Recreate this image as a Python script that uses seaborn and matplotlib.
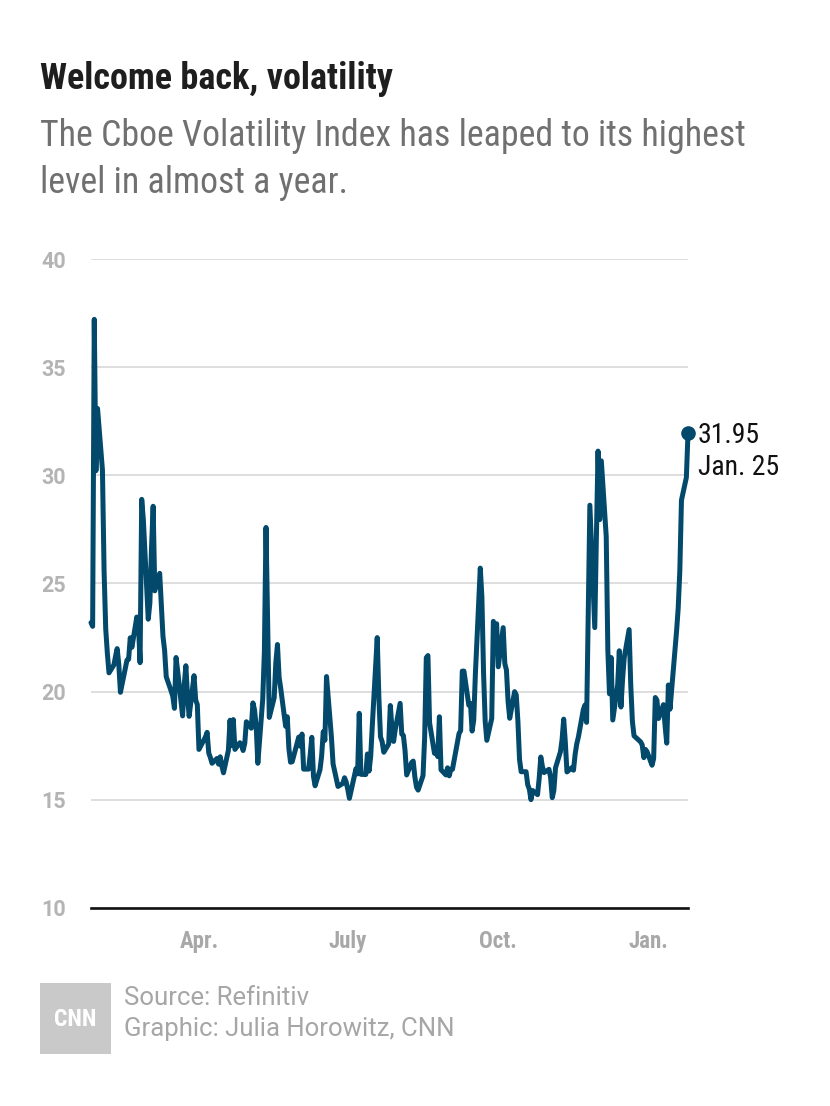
import numpy as np
import pandas as pd
import matplotlib
matplotlib.use("Agg")
import matplotlib.pyplot as plt
from matplotlib import font_manager as fm
from matplotlib.patches import Rectangle
import seaborn as sns

# ---------------- data ----------------
start_date = "2021-01-25"
end_date = "2022-01-25"
market_holidays = ["2021-02-15", "2021-04-02", "2021-05-31", "2021-07-05",
                   "2021-09-06", "2021-11-25", "2021-12-24", "2022-01-17"]

vix_2021_01 = [23.19, 23.02, 37.21, 30.21, 33.09]
vix_2021_02 = [30.24, 25.56, 22.91, 21.77, 20.87, 21.24, 21.63, 21.99, 21.25, 19.97,
               21.46, 21.50, 22.49, 22.05, 23.45, 23.11, 21.34, 28.89, 27.95]
vix_2021_03 = [23.35, 24.10, 26.67, 28.57, 24.66, 25.47, 24.03, 22.56, 21.91, 20.69,
               20.03, 19.79, 19.23, 21.58, 20.95, 18.88, 20.30, 21.20, 19.81, 18.86,
               20.74, 19.61, 19.40]
vix_2021_04 = [17.33, 17.91, 18.12, 17.16, 16.95, 16.69, 16.91, 16.65, 16.99, 16.57,
               16.25, 17.29, 18.68, 17.50, 18.71, 17.33, 17.64, 17.56, 17.28, 17.61,
               18.61]
vix_2021_05 = [18.31, 19.48, 19.15, 18.39, 16.69, 19.66, 21.84, 27.59, 23.13, 18.81,
               19.72, 21.34, 22.18, 20.67, 20.15, 18.40, 18.84, 17.36, 16.74, 16.76]
vix_2021_06 = [17.90, 17.48, 18.04, 16.42, 16.42, 17.07, 17.89, 16.10, 15.65, 16.39,
               17.02, 18.15, 17.75, 20.70, 17.89, 16.66, 16.32, 15.97, 15.62, 15.76,
               16.02, 15.83]
vix_2021_07 = [15.48, 15.07, 16.44, 16.20, 19.00, 16.18, 16.17, 17.12, 16.33, 17.01,
               18.45, 22.50, 19.73, 17.91, 17.69, 17.20, 17.58, 19.36, 18.31, 17.70,
               18.24]
vix_2021_08 = [19.46, 18.04, 17.97, 17.28, 16.15, 16.72, 16.79, 16.06, 15.59, 15.45,
               16.12, 17.91, 21.57, 21.67, 18.56, 17.15, 17.22, 17.00, 18.84, 16.39,
               16.15, 16.48]
vix_2021_09 = [16.11, 16.41, 16.41, 18.06, 18.20, 20.95, 20.95, 19.37, 19.46, 18.18,
               18.69, 20.81, 25.71, 24.36, 20.87, 18.63, 17.75, 18.76, 23.25, 22.56,
               23.14]
vix_2021_10 = [21.15, 22.96, 21.30, 21.00, 19.54, 18.77, 20.00, 19.85, 18.64, 16.86,
               16.30, 16.30, 15.70, 15.49, 15.01, 15.43, 15.24, 15.98, 16.98, 16.53,
               16.26]
vix_2021_11 = [16.41, 16.03, 15.10, 15.44, 16.48, 17.22, 17.78, 18.73, 17.66, 16.29,
               16.49, 16.37, 17.11, 17.59, 17.91, 19.17, 19.38, 18.58, 28.62, 22.96,
               27.19]
vix_2021_12 = [31.12, 27.95, 30.67, 27.18, 21.89, 19.90, 21.58, 18.69, 20.31, 21.89,
               19.29, 20.57, 21.57, 22.87, 20.31, 18.63, 17.96, 17.68, 17.54, 16.95,
               17.33, 17.22]
vix_2022_01 = [16.60, 16.91, 19.73, 19.61, 18.76, 19.40, 18.41, 17.62, 20.31, 19.19,
               22.79, 23.85, 25.59, 28.85, 29.90, 31.95]

month_ticks = ["2021-04-01", "2021-07-01", "2021-10-01", "2022-01-01"]
month_labels = ["Apr.", "July", "Oct.", "Jan."]
y_ticks = [10, 15, 20, 25, 30, 35, 40]
y_tick_labels = ["10", "15", "20", "25", "30", "35", "40"]

title = "Welcome back, volatility"
subtitle_lines = ["The Cboe Volatility Index has leaped to its highest",
                  "level in almost a year."]
end_value_label = "31.95"
end_date_label = "Jan. 25"
source_lines = ["Source: Refinitiv", "Graphic: Julia Horowitz, CNN"]

values = (vix_2021_01 + vix_2021_02 + vix_2021_03 + vix_2021_04 + vix_2021_05 +
          vix_2021_06 + vix_2021_07 + vix_2021_08 + vix_2021_09 + vix_2021_10 +
          vix_2021_11 + vix_2021_12 + vix_2022_01)
dates = pd.bdate_range(start_date, end_date, freq="C", holidays=market_holidays)
df = pd.DataFrame({"date": dates, "vix": values})

# ---------------- style ----------------
sns.set_theme(style="white")
names = {f.name for f in fm.fontManager.ttflist}


def pick(cands, default="DejaVu Sans"):
    for c in cands:
        if c in names:
            return c
    return default


narrow = pick(["Roboto Condensed", "Liberation Sans Narrow", "DejaVu Sans"])
stretch = "condensed"
tickfont = pick(["Roboto", "Lato", "DejaVu Sans"])
regular = pick(["Roboto", "Liberation Sans", "DejaVu Sans"])
plt.rcParams["font.family"] = [narrow, "DejaVu Sans"]

LINE = "#03496b"
W, H = 830, 1106
fig = plt.figure(figsize=(W / 100, H / 100), dpi=100)
fig.patch.set_facecolor("white")


def fx(px):
    return px / W


def fy(py):
    return 1 - py / H


ax = fig.add_axes([fx(91), fy(908), fx(688) - fx(91), fy(259) - fy(908)])
ax.set_facecolor("white")

sns.lineplot(data=df, x="date", y="vix", ax=ax, color=LINE, linewidth=3.6,
             solid_capstyle="round", solid_joinstyle="round", clip_on=False,
             legend=False, zorder=3)

ax.set_xlim(df["date"].iloc[0], df["date"].iloc[-1])
ax.set_ylim(10, 40)
ax.set_xlabel("")
ax.set_ylabel("")

ax.set_yticks(y_ticks)
ax.set_yticklabels(y_tick_labels, fontfamily=tickfont, fontweight="bold",
                   fontsize=15.5, color="#b4b4b4")
ax.set_xticks(pd.to_datetime(month_ticks))
ax.set_xticklabels(month_labels, fontfamily=narrow, fontstretch=stretch,
                   fontweight="bold", fontsize=16.5, color="#a8a8a8")
ax.tick_params(axis="y", length=0, pad=18)
ax.tick_params(axis="x", length=0, pad=16)

ax.yaxis.grid(True, color="#dedede", linewidth=1.4)
ax.xaxis.grid(False)
for s in ["top", "right", "left"]:
    ax.spines[s].set_visible(False)
ax.spines["bottom"].set_color("#111111")
ax.spines["bottom"].set_linewidth(1.9)
ax.spines["bottom"].set_zorder(4)

# end point marker + label
last = df.iloc[-1]
ax.plot([last["date"]], [last["vix"]], marker="o", markersize=9.5, color=LINE,
        clip_on=False, zorder=5)
ax.annotate(end_value_label, xy=(last["date"], last["vix"]), xytext=(7, -2),
            textcoords="offset points", ha="left", va="center",
            fontsize=20, color="#111111", fontfamily=narrow,
            fontstretch=stretch, annotation_clip=False)
ax.annotate(end_date_label, xy=(last["date"], last["vix"]), xytext=(7, -25),
            textcoords="offset points", ha="left", va="center",
            fontsize=20, color="#111111", fontfamily=narrow,
            fontstretch=stretch, annotation_clip=False)

# titles
fig.text(fx(40), fy(89), title, ha="left", va="baseline", fontsize=26,
         fontweight="bold", color="#1e1e1e", fontfamily=narrow, fontstretch=stretch)
fig.text(fx(40), fy(146), subtitle_lines[0], ha="left", va="baseline", fontsize=25.8,
         color="#707070", fontfamily=narrow, fontstretch=stretch)
fig.text(fx(40), fy(193), subtitle_lines[1], ha="left", va="baseline", fontsize=25.8,
         color="#707070", fontfamily=narrow, fontstretch=stretch)

# footer: logo box + credits
fig.patches.append(Rectangle((fx(40), fy(1054)), fx(111) - fx(40), fy(983) - fy(1054),
                             transform=fig.transFigure, facecolor="#c9c9c9",
                             edgecolor="none"))
fig.text(fx(75.5), fy(1020), "CNN", ha="center", va="center", fontsize=17,
         fontweight="bold", color="white", fontfamily=narrow, fontstretch=stretch)
fig.text(fx(124), fy(1005), source_lines[0], ha="left", va="baseline", fontsize=18.5,
         color="#a6a6a6", fontfamily=regular)
fig.text(fx(124), fy(1036), source_lines[1], ha="left", va="baseline", fontsize=18.5,
         color="#a6a6a6", fontfamily=regular)

fig.savefig("out.png", dpi=100, facecolor="white")
